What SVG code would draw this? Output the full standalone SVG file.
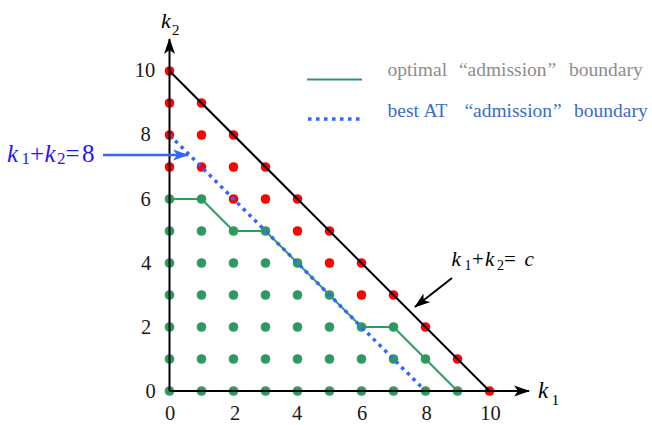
<svg xmlns="http://www.w3.org/2000/svg" width="652" height="425" viewBox="0 0 652 425">
<style>
.num{font-size:20.5px;fill:#1a1a1a}
.it{font-style:italic}
.g{fill:#2e9960}
.r{fill:#ff0000}
.ax{stroke:#000;stroke-width:2;fill:none}
</style>
<defs>
<marker id="ah" viewBox="0 0 16 12" refX="15" refY="6" markerWidth="16" markerHeight="12" markerUnits="userSpaceOnUse" orient="auto">
<path d="M0,0.5 L16,6 L0,11.5 L4,6 Z" fill="#000"/>
</marker>
<marker id="ahb" viewBox="0 0 16 12" refX="15" refY="6" markerWidth="16" markerHeight="12" markerUnits="userSpaceOnUse" orient="auto">
<path d="M0,0.5 L16,6 L0,11.5 L4,6 Z" fill="#3366ff"/>
</marker>
</defs>
<g id="points">
<g class="g">
<circle cx="169.5" cy="391" r="4.8"/><circle cx="201.5" cy="391" r="4.8"/><circle cx="233.5" cy="391" r="4.8"/><circle cx="265.5" cy="391" r="4.8"/><circle cx="297.5" cy="391" r="4.8"/><circle cx="329.5" cy="391" r="4.8"/><circle cx="361.5" cy="391" r="4.8"/><circle cx="393.5" cy="391" r="4.8"/><circle cx="425.5" cy="391" r="4.8"/><circle cx="457.5" cy="391" r="4.8"/>
<circle cx="169.5" cy="359" r="4.8"/><circle cx="201.5" cy="359" r="4.8"/><circle cx="233.5" cy="359" r="4.8"/><circle cx="265.5" cy="359" r="4.8"/><circle cx="297.5" cy="359" r="4.8"/><circle cx="329.5" cy="359" r="4.8"/><circle cx="361.5" cy="359" r="4.8"/><circle cx="393.5" cy="359" r="4.8"/><circle cx="425.5" cy="359" r="4.8"/>
<circle cx="169.5" cy="327" r="4.8"/><circle cx="201.5" cy="327" r="4.8"/><circle cx="233.5" cy="327" r="4.8"/><circle cx="265.5" cy="327" r="4.8"/><circle cx="297.5" cy="327" r="4.8"/><circle cx="329.5" cy="327" r="4.8"/><circle cx="361.5" cy="327" r="4.8"/><circle cx="393.5" cy="327" r="4.8"/>
<circle cx="169.5" cy="295" r="4.8"/><circle cx="201.5" cy="295" r="4.8"/><circle cx="233.5" cy="295" r="4.8"/><circle cx="265.5" cy="295" r="4.8"/><circle cx="297.5" cy="295" r="4.8"/><circle cx="329.5" cy="295" r="4.8"/>
<circle cx="169.5" cy="263" r="4.8"/><circle cx="201.5" cy="263" r="4.8"/><circle cx="233.5" cy="263" r="4.8"/><circle cx="265.5" cy="263" r="4.8"/><circle cx="297.5" cy="263" r="4.8"/>
<circle cx="169.5" cy="231" r="4.8"/><circle cx="201.5" cy="231" r="4.8"/><circle cx="233.5" cy="231" r="4.8"/><circle cx="265.5" cy="231" r="4.8"/>
<circle cx="169.5" cy="199" r="4.8"/><circle cx="201.5" cy="199" r="4.8"/>
</g>
<g class="r">
<circle cx="489.5" cy="391" r="4.8"/>
<circle cx="457.5" cy="359" r="4.8"/>
<circle cx="425.5" cy="327" r="4.8"/>
<circle cx="361.5" cy="295" r="4.8"/><circle cx="393.5" cy="295" r="4.8"/>
<circle cx="329.5" cy="263" r="4.8"/><circle cx="361.5" cy="263" r="4.8"/>
<circle cx="297.5" cy="231" r="4.8"/><circle cx="329.5" cy="231" r="4.8"/>
<circle cx="233.5" cy="199" r="4.8"/><circle cx="265.5" cy="199" r="4.8"/><circle cx="297.5" cy="199" r="4.8"/>
<circle cx="169.5" cy="167" r="4.8"/><circle cx="201.5" cy="167" r="4.8"/><circle cx="233.5" cy="167" r="4.8"/><circle cx="265.5" cy="167" r="4.8"/>
<circle cx="169.5" cy="135" r="4.8"/><circle cx="201.5" cy="135" r="4.8"/><circle cx="233.5" cy="135" r="4.8"/>
<circle cx="169.5" cy="103" r="4.8"/><circle cx="201.5" cy="103" r="4.8"/>
<circle cx="169.5" cy="71" r="4.8"/>
</g>
</g>
<g id="connectors">
<polyline points="169.5,199 201.5,199 233.5,231 265.5,231 361.5,327 393.5,327 457.5,391" fill="none" stroke="#2e9960" stroke-width="2"/>
<line x1="169.5" y1="135" x2="425.5" y2="391" stroke="#3366ff" stroke-width="3.5" stroke-dasharray="3.5 4.5"/>
<line x1="169.5" y1="71" x2="489.5" y2="391" class="ax"/>
<line x1="169.5" y1="391" x2="529" y2="391" class="ax" marker-end="url(#ah)"/>
<line x1="169.5" y1="391" x2="169.5" y2="39" class="ax" marker-end="url(#ah)"/>
<line x1="103" y1="155" x2="188" y2="155" stroke="#3366ff" stroke-width="2.5" marker-end="url(#ahb)"/>
<line x1="452" y1="278" x2="415" y2="307" stroke="#000" stroke-width="2" marker-end="url(#ah)"/>
</g>
<g id="ticks">
<text class="num" font-family="Liberation Serif" x="150.5" y="397.5" text-anchor="middle">0</text>
<text class="num" font-family="Liberation Serif" x="146" y="334" text-anchor="middle">2</text>
<text class="num" font-family="Liberation Serif" x="146" y="269.5" text-anchor="middle">4</text>
<text class="num" font-family="Liberation Serif" x="145.5" y="205.5" text-anchor="middle">6</text>
<text class="num" font-family="Liberation Serif" x="145.5" y="141" text-anchor="middle">8</text>
<text class="num" font-family="Liberation Serif" x="145" y="77" text-anchor="middle">10</text>
<text class="num" font-family="Liberation Serif" x="170" y="420" text-anchor="middle">0</text>
<text class="num" font-family="Liberation Serif" x="235" y="420" text-anchor="middle">2</text>
<text class="num" font-family="Liberation Serif" x="297" y="420" text-anchor="middle">4</text>
<text class="num" font-family="Liberation Serif" x="362" y="420" text-anchor="middle">6</text>
<text class="num" font-family="Liberation Serif" x="426.5" y="420" text-anchor="middle">8</text>
<text class="num" font-family="Liberation Serif" x="490.5" y="420" text-anchor="middle">10</text>
</g>
<g id="axis-labels">
<text font-family="Liberation Serif" font-size="22" fill="#000"><tspan class="it" x="161" y="28">k</tspan><tspan font-size="15" x="172" y="35">2</tspan></text>
<text font-family="Liberation Serif" font-size="23" fill="#000"><tspan class="it" x="538" y="398">k</tspan><tspan font-size="15.5" x="551.5" y="405">1</tspan></text>
</g>
<g id="label-8">
<text font-family="Liberation Serif" font-size="25" fill="#1a1aff"><tspan class="it" x="7" y="161.5">k</tspan><tspan font-size="17" x="21.5" y="164">1</tspan><tspan x="30" y="161.5">+</tspan><tspan class="it" x="44.5" y="161.5">k</tspan><tspan font-size="17" x="57" y="164">2</tspan><tspan x="65.5" y="161.5">=</tspan><tspan x="82" y="161.5">8</tspan></text>
</g>
<g id="label-c">
<text font-family="Liberation Serif" font-size="21" fill="#000"><tspan class="it" x="451.5" y="265.5">k</tspan><tspan font-size="14" x="464.5" y="270">1</tspan><tspan x="472" y="265.5">+</tspan><tspan class="it" x="485" y="265.5">k</tspan><tspan font-size="14" x="497" y="270">2</tspan><tspan x="504" y="265.5">=</tspan><tspan class="it" x="524.5" y="265.5">c</tspan></text>
</g>
<g id="legend">
<line x1="307" y1="79.5" x2="362" y2="79.5" stroke="#2e9960" stroke-width="2"/>
<line x1="308" y1="119" x2="363" y2="119" stroke="#3366ff" stroke-width="3.5" stroke-dasharray="3.5 4.5"/>
<text font-family="Liberation Serif" font-size="19.5" fill="#8c8c8c"><tspan x="387.5" y="76">optimal</tspan><tspan x="459" y="76">“</tspan><tspan x="467.5" y="76">admission</tspan><tspan x="547.5" y="76">”</tspan><tspan x="569" y="76">boundary</tspan></text>
<text font-family="Liberation Serif" font-size="19.5" fill="#3a6cc8"><tspan x="387.5" y="116.5">best</tspan><tspan x="423.5" y="116.5">AT</tspan><tspan x="464.5" y="116.5">“</tspan><tspan x="473" y="116.5">admission</tspan><tspan x="553" y="116.5">”</tspan><tspan x="574" y="116.5">boundary</tspan></text>
</g>
</svg>
